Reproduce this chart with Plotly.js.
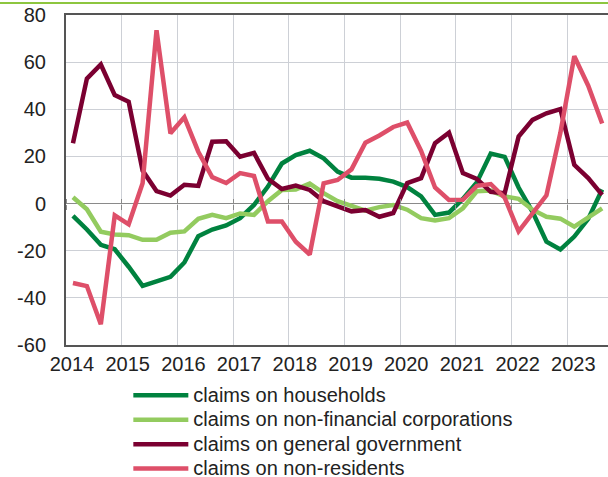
<!DOCTYPE html>
<html>
<head>
<meta charset="utf-8">
<script src="https://cdn.plot.ly/plotly-3.0.1.min.js"></script>
<style>
  html, body { margin: 0; padding: 0; background: #ffffff; }
  #chart { width: 608px; height: 477px; }
</style>
</head>
<body>
<div id="chart"></div>
<script>
// Quarterly observations
const quarters = [
  "2014Q1","2014Q2","2014Q3","2014Q4",
  "2015Q1","2015Q2","2015Q3","2015Q4",
  "2016Q1","2016Q2","2016Q3","2016Q4",
  "2017Q1","2017Q2","2017Q3","2017Q4",
  "2018Q1","2018Q2","2018Q3","2018Q4",
  "2019Q1","2019Q2","2019Q3","2019Q4",
  "2020Q1","2020Q2","2020Q3","2020Q4",
  "2021Q1","2021Q2","2021Q3","2021Q4",
  "2022Q1","2022Q2","2022Q3","2022Q4",
  "2023Q1","2023Q2","2023Q3"
];

const households = [
  -5.2, -11, -17.5, -19.4,
  -26.8, -34.9, -33, -31.1,
  -25, -13.8, -11, -9.3,
  -6.2, -0.6, 7.2, 17,
  20.6, 22.4, 19.2, 13.6,
  11, 11, 10.5, 9.3,
  7, 3, -4.8, -3.8,
  2, 9, 21.2, 19.8,
  6.8, -3.5, -16.2, -19.5,
  -14, -6.5, 6
];

const nonFinancialCorporations = [
  2.7, -2.4, -11.9, -13.1,
  -13.4, -15.4, -15.4, -12.4,
  -11.8, -6.5, -4.8, -6.2,
  -4.2, -4.8, 1, 5.8,
  6, 8.5, 4.4, 1,
  -1, -3, -1.5, -0.6,
  -2.6, -6.2, -7.2, -6.2,
  -2, 5.2, 5.5, 3,
  2, -2.6, -5.6, -6.4,
  -9.8, -5.8, -2
];

const generalGovernment = [
  25.6, 53, 59, 46,
  43.2, 14, 5.3, 3.4,
  8, 7.5, 26.2, 26.4,
  19.9, 21.5, 10.5, 6.2,
  7.6, 5.8, 1, -1.3,
  -3.3, -2.7, -5.6, -4,
  8.7, 10.8, 25.6, 30.1,
  12.9, 10.5, 5, 4.4,
  28.4, 35.5, 38.3, 40.1,
  16.4, 10.8, 3.7
];

const nonResidents = [
  -33.7, -35, -51.2, -5,
  -8.8, 8.6, 73.5, 29.8,
  36.6, 22, 11.2, 8.7,
  12.9, 11.7, -7.6, -7.6,
  -16.2, -21.6, 8.6, 10,
  14.5, 25.8, 28.9, 32.5,
  34.4, 22.3, 6.8, 1.5,
  1.6, 7.5, 8.3, 2.5,
  -11.8, -4.5, 3.5, 30,
  62.5, 50, 34
];

const seriesNames = [
  "claims on households",
  "claims on non-financial corporations",
  "claims on general government",
  "claims on non-residents"
];
const seriesColors = ["#00823f", "#93cb5f", "#7b0031", "#de4f69"];

const yearTicks = [2014, 2015, 2016, 2017, 2018, 2019, 2020, 2021, 2022, 2023];
const yTickVals = [-60, -40, -20, 0, 20, 40, 60, 80];
const yTickText = ["-60", "-40", "-20", "0", "20", "40", "60", "80"];

// quarter -> position in the middle of the quarter
const xPos = quarters.map(q => Number(q.slice(0, 4)) + (Number(q.slice(5)) - 0.5) / 4);

const allSeries = [households, nonFinancialCorporations, generalGovernment, nonResidents];
const traces = allSeries.map((vals, k) => ({
  x: xPos,
  y: vals,
  type: "scatter",
  mode: "lines",
  name: '<span style="font-size:20px">' + seriesNames[k] + '</span>',
  line: { color: seriesColors[k], width: 4.5 },
  hoverinfo: "skip"
}));

const FONT = "Liberation Sans, Arial, sans-serif";
const X_RANGE = [2014, 2023.73];
const Y_RANGE = [-60, 80];
const zeroPos = (0 - Y_RANGE[0]) / (Y_RANGE[1] - Y_RANGE[0]);

const tickAxis = (side) => ({
  range: X_RANGE,
  overlaying: "x",
  anchor: "free",
  position: zeroPos,
  side: side,
  tickvals: yearTicks,
  ticks: "outside",
  ticklen: 5,
  tickwidth: 1,
  tickcolor: "#8a8a8a",
  showticklabels: false,
  showgrid: false,
  zeroline: false,
  showline: false,
  fixedrange: true
});

const layout = {
  width: 608,
  height: 477,
  margin: { l: 66, r: 0, t: 15, b: 132, autoexpand: false },
  paper_bgcolor: "#ffffff",
  plot_bgcolor: "#ffffff",
  font: { family: FONT, size: 20, color: "#222222" },
  showlegend: true,
  xaxis: {
    range: X_RANGE,
    tickvals: yearTicks,
    ticktext: yearTicks.map(String),
    ticklabelshift: 6,
    ticks: "",
    showgrid: true,
    gridcolor: "#cdd0d6",
    gridwidth: 1,
    zeroline: false,
    showline: true,
    mirror: true,
    linecolor: "#555555",
    linewidth: 2,
    tickfont: { family: FONT, size: 20, color: "#222222" },
    fixedrange: true
  },
  xaxis2: tickAxis("bottom"),
  xaxis3: tickAxis("top"),
  yaxis: {
    range: Y_RANGE,
    tickvals: yTickVals,
    ticktext: yTickText,
    ticks: "",
    ticklabelstandoff: 14,
    showgrid: true,
    gridcolor: "#cdd0d6",
    gridwidth: 1,
    zeroline: true,
    zerolinecolor: "#8a8a8a",
    zerolinewidth: 1.5,
    showline: true,
    mirror: false,
    linecolor: "#555555",
    linewidth: 2,
    tickfont: { family: FONT, size: 20, color: "#222222" },
    fixedrange: true
  },
  legend: {
    orientation: "v",
    x: 0.115,
    xanchor: "left",
    y: -0.1,
    yanchor: "top",
    traceorder: "normal",
    itemwidth: 55,
    tracegroupgap: 0,
    bgcolor: "rgba(0,0,0,0)",
    font: { family: FONT, size: 16.5, color: "#222222" }
  },
  shapes: [
    {
      type: "line", xref: "paper", yref: "paper",
      x0: -66 / 542, x1: 1, y0: 1 + 12 / 330, y1: 1 + 12 / 330,
      line: { color: "#8dc63f", width: 2 }
    }
  ]
};

// dummy invisible traces so the overlay tick axes are drawn
traces.push({ x: [X_RANGE[0]], y: [0], xaxis: "x2", type: "scatter", mode: "none", showlegend: false, hoverinfo: "skip" });
traces.push({ x: [X_RANGE[0]], y: [0], xaxis: "x3", type: "scatter", mode: "none", showlegend: false, hoverinfo: "skip" });

Plotly.newPlot("chart", traces, layout, { displayModeBar: false, staticPlot: true });
</script>
</body>
</html>
